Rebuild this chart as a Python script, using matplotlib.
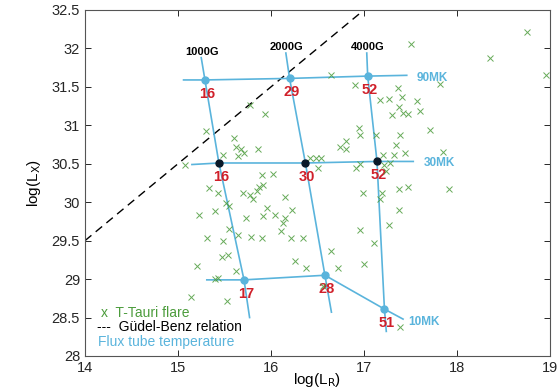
import numpy as np
import matplotlib
matplotlib.use('Agg')
import matplotlib.pyplot as plt

plt.rcParams['font.family'] = ['Liberation Sans', 'DejaVu Sans']

line_blue = '#5ab4dc'
red = '#d0202a'
green = '#4c9c3c'

# T-Tauri flares: log(L_R), log(L_X)
flare_lr = [18.75, 18.35, 18.96, 17.51, 17.82, 17.57, 17.60, 17.71, 17.85, 17.91,
            16.65, 16.90, 17.37, 17.17, 17.27, 17.41, 17.38, 17.30, 17.42, 17.47,
            16.95, 16.96, 17.13, 17.39, 16.81, 16.74, 16.81, 17.34, 17.32, 17.44,
            16.42, 16.48, 16.54, 16.51, 16.91, 16.96, 17.20, 17.22, 17.28, 16.15,
            16.99, 17.19, 17.38, 17.47, 17.24, 17.17, 17.38, 16.23, 17.27, 16.96,
            16.22, 16.34, 17.11, 16.65, 16.26, 16.38, 16.72, 17.00, 16.56, 17.39,
            15.77, 15.94, 15.30, 15.60, 15.62, 15.68, 15.71, 15.65, 15.86, 15.48,
            15.08, 15.90, 16.02, 15.33, 15.87, 15.91, 15.43, 15.52, 15.55, 15.23,
            15.40, 15.73, 15.70, 15.77, 15.81, 15.85, 15.91, 15.96, 16.04, 16.15,
            16.13, 16.11, 15.55, 15.31, 15.48, 15.65, 15.79, 15.90, 15.47, 15.54,
            15.20, 15.62, 15.40, 15.43, 15.14, 15.53]
flare_lx = [32.21, 31.88, 31.66, 32.06, 31.54, 31.31, 31.19, 30.94, 30.65, 30.17,
            31.65, 31.53, 31.49, 31.33, 31.34, 31.37, 31.24, 31.13, 31.16, 31.15,
            30.97, 30.87, 30.88, 30.88, 30.80, 30.72, 30.69, 30.74, 30.62, 30.64,
            30.57, 30.58, 30.58, 30.44, 30.44, 30.50, 30.61, 30.48, 30.51, 30.07,
            30.12, 30.12, 30.17, 30.20, 30.40, 30.04, 29.90, 29.90, 29.71, 29.64,
            29.53, 29.53, 29.47, 29.36, 29.23, 29.15, 29.15, 29.20, 28.91, 28.38,
            31.26, 31.15, 30.92, 30.83, 30.72, 30.69, 30.64, 30.60, 30.69, 30.62,
            30.49, 30.35, 30.37, 30.19, 30.20, 30.22, 30.12, 29.99, 29.95, 29.84,
            29.88, 29.79, 30.12, 30.09, 30.04, 30.14, 29.82, 29.93, 29.84, 29.80,
            29.73, 29.62, 29.65, 29.54, 29.50, 29.57, 29.55, 29.53, 29.29, 29.31,
            29.17, 29.10, 29.00, 29.01, 28.77, 28.71]

# Guedel-Benz relation
gb_lr = [14, 17]
gb_lx = [29.5, 32.5]

# flux tube grid nodes (columns: 1000G, 2000G, 4000G)
fields = ['1000G', '2000G', '4000G']
temps = ['90MK', '30MK', '10MK']
node_lr = {'90MK': [15.29, 16.20, 17.04],
           '30MK': [15.44, 16.37, 17.14],
           '10MK': [15.71, 16.58, 17.22]}
node_lx = {'90MK': [31.59, 31.61, 31.64],
           '30MK': [30.51, 30.51, 30.53],
           '10MK': [28.99, 29.05, 28.61]}
node_text = {'90MK': ['16', '29', '52'],
             '30MK': ['16', '30', '52'],
             '10MK': ['17', '28', '51']}
# line ends: temperature lines (left, right), field lines (top, bottom)
temp_end_lr = {'90MK': (15.06, 17.46), '30MK': (15.15, 17.53), '10MK': (15.31, 17.42)}
temp_end_lx = {'90MK': (31.59, 31.65), '30MK': (30.49, 30.53), '10MK': (28.99, 28.48)}
field_end_lr = {'1000G': (15.25, 15.77), '2000G': (16.16, 16.65), '4000G': (17.03, 17.24)}
field_end_lx = {'1000G': (31.88, 28.50), '2000G': (31.94, 28.57), '4000G': (31.94, 28.32)}

fig = plt.figure(figsize=(5.58, 3.88), dpi=100)
ax = fig.add_axes([0.1523, 0.0825, 0.8333, 0.8918])

ax.plot(gb_lr, gb_lx, '--', color='k', lw=1.0, dashes=(6, 4))

for i, f in enumerate(fields):
    xs = [field_end_lr[f][0]] + [node_lr[t][i] for t in temps] + [field_end_lr[f][1]]
    ys = [field_end_lx[f][0]] + [node_lx[t][i] for t in temps] + [field_end_lx[f][1]]
    ax.plot(xs, ys, color=line_blue, lw=1.2, zorder=2)
    ax.annotate(f, (xs[0], ys[0]), xytext=(1, 1), textcoords='offset pixels',
                ha='center', va='bottom', fontsize=8, fontweight='bold', color='k')

for t in temps:
    xs = [temp_end_lr[t][0]] + node_lr[t] + [temp_end_lr[t][1]]
    ys = [temp_end_lx[t][0]] + node_lx[t] + [temp_end_lx[t][1]]
    ax.plot(xs, ys, color=line_blue, lw=1.2, zorder=2)
    mcol = '#0a1a2a' if t == '30MK' else line_blue
    ax.plot(node_lr[t], node_lx[t], 'o', color=mcol, ms=5, zorder=4)
    for x, y, s in zip(node_lr[t], node_lx[t], node_text[t]):
        ax.annotate(s, (x, y), xytext=(2, -14), textcoords='offset pixels',
                    ha='center', va='center', fontsize=10.5, fontweight='bold', color=red)

ax.annotate('90MK', (temp_end_lr['90MK'][1], temp_end_lx['90MK'][1]), xytext=(10, -3),
            textcoords='offset pixels', ha='left', va='center', fontsize=8.5,
            fontweight='bold', color=line_blue)
ax.annotate('30MK', (temp_end_lr['30MK'][1], temp_end_lx['30MK'][1]), xytext=(11, -2),
            textcoords='offset pixels', ha='left', va='center', fontsize=8.5,
            fontweight='bold', color=line_blue)
ax.annotate('10MK', (temp_end_lr['10MK'][1], temp_end_lx['10MK'][1]), xytext=(5, -3),
            textcoords='offset pixels', ha='left', va='center', fontsize=8.5,
            fontweight='bold', color=line_blue)

ax.plot(flare_lr, flare_lx, 'x', color=green, ms=4.5, mew=0.7, alpha=0.85, zorder=3)

# text legend in lower left
ax.text(0.035, 0.125, 'x  T-Tauri flare', transform=ax.transAxes, fontsize=10, color=green, va='center')
ax.text(0.025, 0.083, '---  Güdel-Benz relation', transform=ax.transAxes, fontsize=10, color='k', va='center')
ax.text(0.028, 0.040, 'Flux tube temperature', transform=ax.transAxes, fontsize=10, color=line_blue, va='center')

ax.set_xlim(14, 19)
ax.set_ylim(28, 32.5)
ax.set_xticks(np.arange(14, 20, 1))
ax.set_yticks(np.arange(28, 33, 0.5))
ax.set_yticklabels(['28', '28.5', '29', '29.5', '30', '30.5', '31', '31.5', '32', '32.5'])
ax.tick_params(direction='in', top=True, right=True, length=4, labelsize=10.5,
               colors='#262626', width=0.7)
for sp in ax.spines.values():
    sp.set_color('#555555')
    sp.set_linewidth(0.8)
ax.set_xlabel('log(L$_\\mathrm{R}$)', fontsize=11, labelpad=-3)
ax.set_ylabel('log(L$_\\mathrm{X}$)', fontsize=11, labelpad=6)

fig.savefig('out.png', dpi=100)
